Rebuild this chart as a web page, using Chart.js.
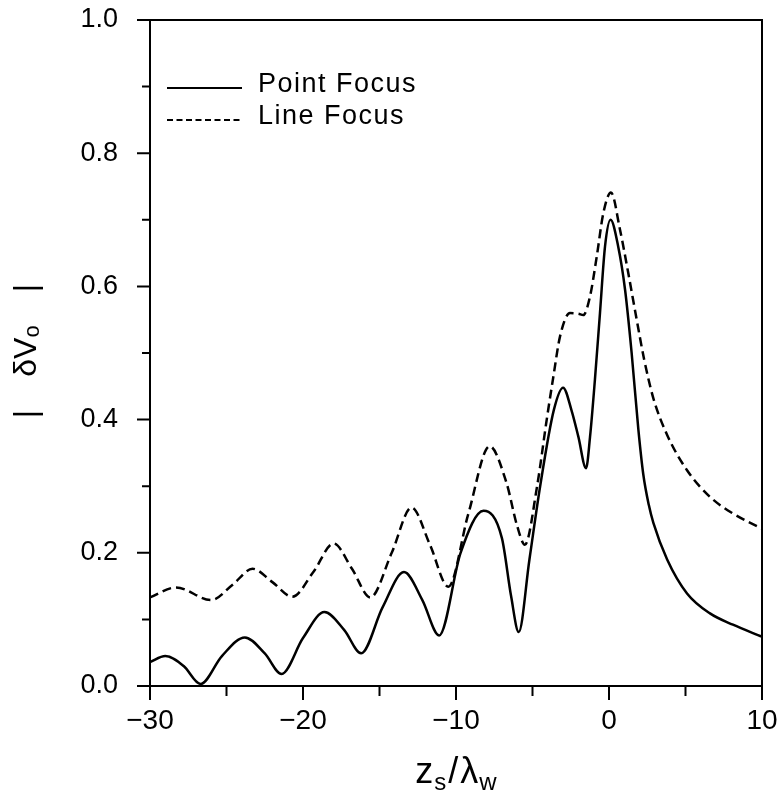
<!DOCTYPE html>
<html>
<head>
<meta charset="utf-8">
<script src="https://cdn.jsdelivr.net/npm/chart.js@4.4.0/dist/chart.umd.min.js"></script>
<style>
  body { margin: 0; background: #fff; }
  #wrap { width: 781px; height: 793px; }
</style>
</head>
<body>
<div id="wrap"><canvas id="focusChart" width="781" height="793"></canvas></div>
<script>
// Point focus (solid)
const pointX = [-30, -29.0, -27.8, -26.7, -25.3, -23.8, -22.5, -21.4, -20.0, -18.6, -17.3, -16.2, -14.8, -13.4, -12.2, -11.1, -9.7, -8.2, -7.0, -6.4, -5.9, -5.2, -4.5, -3.6, -3.0, -2.45, -2.0, -1.5, -1.24, -0.92, -0.59, -0.26, 0.1, 0.6, 1.05, 1.48, 1.92, 2.24, 2.6, 2.9, 3.8, 5.1, 6.6, 8.1, 10]
const pointY = [0.036, 0.045, 0.030, 0.003, 0.045, 0.073, 0.049, 0.018, 0.072, 0.111, 0.084, 0.049, 0.118, 0.171, 0.129, 0.076, 0.200, 0.263, 0.222, 0.135, 0.081, 0.190, 0.300, 0.415, 0.448, 0.414, 0.374, 0.327, 0.374, 0.460, 0.560, 0.660, 0.700, 0.660, 0.595, 0.500, 0.385, 0.318, 0.272, 0.245, 0.190, 0.139, 0.109, 0.092, 0.074]

// Line focus (dashed)
const lineX = [-30, -28.3, -26.0, -24.6, -23.3, -22.0, -20.7, -19.3, -18.0, -16.8, -15.6, -14.2, -12.9, -11.7, -10.5, -9.2, -7.8, -6.7, -6.0, -5.5, -4.7, -4.07, -3.64, -3.2, -2.55, -2.0, -1.68, -1.24, -0.8, -0.37, 0.13, 0.72, 1.26, 1.81, 2.3, 2.9, 3.8, 5.1, 6.6, 8.1, 10]
const lineY = [0.133, 0.148, 0.129, 0.152, 0.176, 0.156, 0.134, 0.172, 0.214, 0.176, 0.133, 0.200, 0.268, 0.212, 0.149, 0.258, 0.360, 0.305, 0.240, 0.212, 0.300, 0.400, 0.464, 0.525, 0.560, 0.559, 0.557, 0.585, 0.645, 0.710, 0.741, 0.685, 0.620, 0.550, 0.490, 0.432, 0.377, 0.324, 0.284, 0.259, 0.236]

const seriesLabels = ['Point Focus', 'Line Focus']
const xRange = [-30, 10]
const yRange = [0, 1]

const FONT = 'Liberation Sans, Arial, sans-serif'

const toPoints = (xs, ys) => xs.map((x, i) => ({x: x, y: ys[i]}))

const noPad = s => { s.paddingTop = 0; s.paddingBottom = 0; s.paddingLeft = 0; s.paddingRight = 0 }

// ticks, frame, axis titles and legend
const decor = {
  id: 'decor',
  afterDraw(chart) {
    const ctx = chart.ctx
    const a = chart.chartArea
    const sx = chart.scales.x
    const sy = chart.scales.y
    ctx.save()
    ctx.strokeStyle = '#000'
    ctx.lineWidth = 2
    ctx.strokeRect(a.left, a.top, a.right - a.left, a.bottom - a.top)

    ctx.beginPath()
    sx.ticks.forEach(t => {
      const px = sx.getPixelForValue(t.value)
      const len = Math.round(t.value) % 10 === 0 ? 14 : 10
      ctx.moveTo(px, a.bottom)
      ctx.lineTo(px, a.bottom + len)
    })
    sy.ticks.forEach(t => {
      const py = sy.getPixelForValue(t.value)
      const len = Math.round(t.value * 10) % 2 === 0 ? 13 : 8
      ctx.moveTo(a.left, py)
      ctx.lineTo(a.left - len, py)
    })
    ctx.stroke()

    // x title: z_s / λ_w
    ctx.fillStyle = '#000'
    ctx.textBaseline = 'alphabetic'
    ctx.textAlign = 'left'
    const big = '36px ' + FONT
    const small = '24px ' + FONT
    const parts = [['z', big, 0, 1], ['s', small, 7, 2], ['/', big, 0, 2], ['\u03bb', big, 0, 1], ['w', small, 7, 0]]
    let total = 0
    parts.forEach(p => { ctx.font = p[1]; total += ctx.measureText(p[0]).width + p[3] })
    let cx = (a.left + a.right) / 2 - total / 2
    parts.forEach(p => {
      ctx.font = p[1]
      ctx.fillText(p[0], cx, 783 + p[2])
      cx += ctx.measureText(p[0]).width + p[3]
    })

    // y title: | δV_o |
    ctx.save()
    ctx.translate(27, 351)
    ctx.rotate(-Math.PI / 2)
    ctx.textBaseline = 'middle'
    ctx.textAlign = 'center'
    ctx.font = '32px ' + FONT
    ctx.fillText('|', -63, 0)
    ctx.fillText('|', 63, 0)
    const w1 = ctx.measureText('\u03b4V').width
    ctx.font = '22px ' + FONT
    const w2 = ctx.measureText('o').width
    ctx.textAlign = 'left'
    ctx.font = '32px ' + FONT
    ctx.fillText('\u03b4V', -(w1 + w2) / 2, 0)
    ctx.font = '22px ' + FONT
    ctx.fillText('o', -(w1 + w2) / 2 + w1, 6)
    ctx.restore()

    // legend
    ctx.font = '27px ' + FONT
    ctx.letterSpacing = '1.5px'
    ctx.textBaseline = 'middle'
    chart.data.datasets.forEach((ds, i) => {
      const ly = 88 + i * 32
      ctx.beginPath()
      ctx.setLineDash(ds.borderDash && ds.borderDash.length ? [6, 3.5] : [])
      ctx.lineWidth = 2
      ctx.moveTo(167, ly)
      ctx.lineTo(242, ly)
      ctx.stroke()
      ctx.setLineDash([])
      ctx.fillText(ds.label, 258, ly - 3)
    })
    ctx.restore()
  }
}

const chart = new Chart(document.getElementById('focusChart').getContext('2d'), {
  type: 'line',
  data: {
    datasets: [
      {
        label: seriesLabels[0],
        data: toPoints(pointX, pointY),
        borderColor: '#000',
        borderWidth: 2.5,
        pointRadius: 0,
        cubicInterpolationMode: 'monotone',
        fill: false
      },
      {
        label: seriesLabels[1],
        data: toPoints(lineX, lineY),
        borderColor: '#000',
        borderWidth: 2.5,
        borderDash: [9, 5],
        pointRadius: 0,
        cubicInterpolationMode: 'monotone',
        fill: false
      }
    ]
  },
  options: {
    responsive: false,
    animation: false,
    layout: { padding: { left: 0, top: 20, right: 19, bottom: 0 } },
    scales: {
      x: {
        type: 'linear',
        min: xRange[0],
        max: xRange[1],
        grid: { display: false, drawTicks: false },
        border: { display: false },
        afterFit: s => { s.height = 107; noPad(s) },
        ticks: {
          stepSize: 5,
          autoSkip: false,
          maxRotation: 0,
          padding: 18,
          color: '#000',
          font: { family: FONT, size: 28 },
          callback: v => Math.round(v) % 10 === 0 ? (v < 0 ? '\u2212' + Math.abs(v) : String(v)) : ''
        }
      },
      y: {
        min: yRange[0],
        max: yRange[1],
        grid: { display: false, drawTicks: false },
        border: { display: false },
        afterFit: s => { s.width = 150; noPad(s) },
        ticks: {
          stepSize: 0.1,
          padding: 32,
          color: '#000',
          font: { family: FONT, size: 27 },
          callback: v => Math.round(v * 10) % 2 === 0 ? v.toFixed(1) : ''
        }
      }
    },
    plugins: {
      legend: { display: false },
      tooltip: { enabled: false }
    }
  },
  plugins: [decor]
})
</script>
</body>
</html>
